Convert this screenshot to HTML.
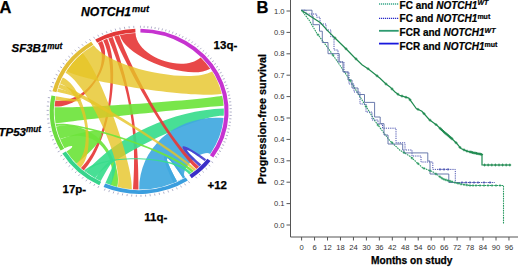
<!DOCTYPE html>
<html><head><meta charset="utf-8"><style>
html,body{margin:0;padding:0;background:#fff;}
body{width:520px;height:267px;overflow:hidden;position:relative;font-family:"Liberation Sans",sans-serif;}
svg{position:absolute;left:0;top:0;}
</style></head><body>
<svg width="520" height="267" viewBox="0 0 520 267">
<g transform="translate(139.2,111.3) scale(1,0.924)">
<path d="M1.26,-90.39L1.29,-92.59 M4.89,-90.27L5.01,-92.46 M8.51,-90.00L8.71,-92.19 M12.11,-89.58L12.41,-91.77 M15.70,-89.03L16.08,-91.19 M19.26,-88.32L19.73,-90.47 M22.79,-87.48L23.34,-89.61 M26.28,-86.50L26.92,-88.60 M29.73,-85.37L30.45,-87.45 M33.13,-84.11L33.94,-86.16 M36.48,-82.71L37.37,-84.73 M39.77,-81.18L40.74,-83.16 M43.00,-79.52L44.04,-81.46 M46.15,-77.73L47.28,-79.62 M49.24,-75.82L50.43,-77.66 M52.24,-73.78L53.51,-75.57 M55.16,-71.62L56.50,-73.37 M57.99,-69.35L59.40,-71.04 M60.72,-66.97L62.20,-68.60 M63.36,-64.48L64.90,-66.05 M65.90,-61.88L67.50,-63.39 M68.33,-59.19L69.99,-60.63 M70.65,-56.40L72.37,-57.77 M72.86,-53.52L74.63,-54.82 M74.94,-50.55L76.77,-51.78 M76.91,-47.50L78.79,-48.66 M78.76,-44.38L80.67,-45.46 M80.48,-41.18L82.43,-42.18 M82.06,-37.92L84.06,-38.84 M83.52,-34.59L85.55,-35.44 M84.84,-31.21L86.90,-31.97 M86.02,-27.79L88.12,-28.46 M87.07,-24.31L89.19,-24.90 M87.98,-20.80L90.12,-21.30 M88.74,-17.25L90.90,-17.67 M89.36,-13.67L91.53,-14.01 M89.84,-10.08L92.02,-10.32 M90.17,-6.46L92.36,-6.62 M90.36,-2.84L92.55,-2.91 M90.40,0.79L92.60,0.81 M90.29,4.42L92.49,4.52 M90.04,8.04L92.23,8.23 M89.65,11.64L91.83,11.93 M89.11,15.23L91.28,15.60 M88.42,18.80L90.58,19.25 M87.60,22.33L89.73,22.87 M86.63,25.83L88.74,26.45 M85.53,29.28L87.61,29.99 M84.28,32.69L86.33,33.49 M82.90,36.05L84.92,36.92 M81.39,39.34L83.37,40.30 M79.74,42.58L81.68,43.62 M77.97,45.75L79.87,46.86 M76.07,48.84L77.92,50.03 M72.20,54.40L73.95,55.73 M69.35,57.99L71.04,59.40 M66.33,61.42L67.94,62.92 M63.14,64.70L64.67,66.27 M59.78,67.81L61.24,69.46 M56.28,70.75L57.64,72.47 M49.24,75.82L50.43,77.66 M45.34,78.21L46.44,80.11 M41.32,80.40L42.33,82.36 M37.20,82.39L38.11,84.40 M32.98,84.17L33.79,86.22 M28.68,85.73L29.38,87.81 M24.31,87.07L24.90,89.19 M19.87,88.19L20.36,90.33 M15.39,89.08L15.76,91.25 M10.86,89.75L11.12,91.93 M6.31,90.18L6.46,92.37 M1.74,90.38L1.78,92.58 M-2.84,90.36L-2.91,92.55 M-7.41,90.10L-7.59,92.29 M-11.96,89.61L-12.25,91.79 M-16.47,88.89L-16.88,91.05 M-20.95,87.94L-21.46,90.08 M-25.37,86.77L-25.99,88.88 M-29.73,85.37L-30.45,87.45 M-34.01,83.76L-34.84,85.80 M-40.34,80.90L-41.32,82.87 M-44.38,78.76L-45.46,80.67 M-48.31,76.41L-49.48,78.27 M-52.11,73.87L-53.38,75.67 M-55.78,71.14L-57.14,72.87 M-59.31,68.23L-60.75,69.89 M-62.68,65.14L-64.21,66.72 M-65.90,61.88L-67.50,63.39 M-68.95,58.47L-70.62,59.89 M-71.82,54.91L-73.56,56.24 M-74.50,51.20L-76.31,52.45 M-77.00,47.37L-78.87,48.52 M-79.52,43.00L-81.46,44.04 M-81.59,38.92L-83.58,39.87 M-83.46,34.74L-85.49,35.59 M-85.11,30.47L-87.18,31.22 M-86.54,26.13L-88.65,26.76 M-87.75,21.72L-89.89,22.25 M-88.74,17.25L-90.90,17.67 M-89.50,12.74L-91.68,13.05 M-90.03,8.19L-92.22,8.39 M-90.33,3.63L-92.53,3.72 M-90.40,-0.95L-92.59,-0.97 M-90.23,-5.52L-92.43,-5.65 M-89.84,-10.08L-92.02,-10.32 M-89.21,-14.61L-91.38,-14.96 M-87.71,-21.87L-89.85,-22.40 M-86.50,-26.28L-88.60,-26.92 M-85.06,-30.62L-87.13,-31.37 M-83.40,-34.89L-85.43,-35.73 M-81.53,-39.06L-83.51,-40.01 M-79.45,-43.14L-81.38,-44.18 M-77.16,-47.10L-79.04,-48.25 M-74.68,-50.94L-76.50,-52.18 M-72.01,-54.66L-73.76,-55.99 M-69.15,-58.23L-70.83,-59.65 M-66.11,-61.65L-67.72,-63.15 M-62.91,-64.92L-64.44,-66.50 M-59.55,-68.02L-60.99,-69.67 M-56.03,-70.94L-57.39,-72.67 M-52.37,-73.69L-53.64,-75.48 M-48.57,-76.24L-49.75,-78.10 M-44.52,-78.68L-45.60,-80.59 M-40.48,-80.83L-41.46,-82.80 M-36.34,-82.78L-37.22,-84.79 M-32.10,-84.51L-32.88,-86.56 M-27.79,-86.02L-28.46,-88.12 M-23.40,-87.32L-23.97,-89.44 M-18.95,-88.39L-19.41,-90.54 M-14.45,-89.24L-14.80,-91.41 M-9.92,-89.85L-10.16,-92.04 M-5.36,-90.24L-5.49,-92.44" stroke="#a4a4c0" stroke-width="0.9" fill="none"/>
<path d="M-19.34,-82.46 A84.7,84.7 0 0 1 -3.69,-84.62 C-2.59,-59.23 43.01,-40.81 61.44,-58.30 A84.7,84.7 0 0 1 71.04,-46.13 C49.72,-32.29 -13.54,-57.72 -19.34,-82.46 Z" fill="#e63838" fill-opacity="0.92"/>
<path d="M-41.32,-73.94 A84.7,84.7 0 0 1 -37.13,-76.13 C-24.13,-49.48 -54.95,-3.36 -84.54,-5.17 A84.7,84.7 0 0 1 -83.88,-11.79 C-54.52,-7.66 -26.86,-48.06 -41.32,-73.94 Z" fill="#e63838" fill-opacity="0.92"/>
<path d="M-36.06,-76.64 A84.7,84.7 0 0 1 -32.00,-78.42 C-17.60,-43.13 -30.44,35.26 -55.34,64.12 A84.7,84.7 0 0 1 -58.30,61.44 C-32.07,33.79 -19.83,-42.15 -36.06,-76.64 Z" fill="#e63838" fill-opacity="0.92"/>
<path d="M-30.91,-78.86 A84.7,84.7 0 0 1 -26.45,-80.46 C-7.94,-24.14 -0.22,25.41 -0.74,84.70 A84.7,84.7 0 0 1 -6.20,84.47 C-1.86,25.34 -9.27,-23.66 -30.91,-78.86 Z" fill="#e63838" fill-opacity="0.92"/>
<path d="M-83.66,13.25 A84.7,84.7 0 0 1 -84.58,-4.43 C-59.21,-3.10 58.10,-11.82 83.00,-16.89 A84.7,84.7 0 0 1 84.49,-5.91 C59.15,-4.14 -58.56,9.27 -83.66,13.25 Z" fill="#6ee43c" fill-opacity="0.92"/>
<path d="M-74.65,40.03 A84.7,84.7 0 0 1 -79.07,30.35 C-30.05,11.53 -23.84,21.62 -62.75,56.89 A84.7,84.7 0 0 1 -72.68,43.50 C-63.96,38.28 -65.69,35.22 -74.65,40.03 Z" fill="#6ee43c" fill-opacity="0.92"/>
<path d="M-79.18,30.08 A84.7,84.7 0 0 1 -83.09,16.45 C-37.39,7.40 -16.44,61.36 -21.92,81.81 A84.7,84.7 0 0 1 -28.69,79.69 C-21.52,59.77 -35.63,13.53 -79.18,30.08 Z" fill="#6ee43c" fill-opacity="0.92"/>
<path d="M-44.00,72.37 A84.7,84.7 0 0 1 -53.30,65.82 C-21.32,26.33 33.86,-1.18 84.65,-2.96 A84.7,84.7 0 0 1 84.56,4.88 C59.19,3.41 -30.80,50.66 -44.00,72.37 Z" fill="#38dc8c" fill-opacity="0.92"/>
<path d="M-38.45,75.47 A84.7,84.7 0 0 1 -43.88,72.45 C-26.33,43.47 -16.96,47.91 -28.27,79.84 A84.7,84.7 0 0 1 -33.77,77.67 C-20.26,46.60 -23.07,45.28 -38.45,75.47 Z" fill="#38dc8c" fill-opacity="0.92"/>
<path d="M45.76,71.28 A84.7,84.7 0 0 1 0.00,84.70 C0.00,38.11 37.97,3.32 84.38,7.38 A84.7,84.7 0 0 1 71.04,46.13 C62.51,40.60 40.27,62.72 45.76,71.28 Z" fill="#40a8e0" fill-opacity="0.92"/>
<path d="M43.88,72.45 A84.7,84.7 0 0 1 37.79,75.80 C21.92,43.96 25.45,42.02 43.88,72.45 Z" fill="#fff"/>
<path d="M45.76,71.28 A84.7,84.7 0 0 1 43.88,72.45 C25.45,42.02 21.92,43.96 37.79,75.80 A84.7,84.7 0 0 1 34.45,77.38 C17.91,40.24 23.79,37.06 45.76,71.28 Z" fill="#40a8e0" fill-opacity="0.92"/>
<path d="M-25.05,-80.91 A84.7,84.7 0 0 1 -20.06,-82.29 C-17.65,-72.42 19.17,19.17 59.89,59.89 A84.7,84.7 0 0 1 57.11,62.55 C18.28,20.02 -22.04,-71.20 -25.05,-80.91 Z" fill="#e63838" fill-opacity="0.92"/>
<path d="M-73.72,-41.71 A84.7,84.7 0 0 1 -56.68,-62.94 C-39.67,-44.06 -5.17,59.06 -7.38,84.38 A84.7,84.7 0 0 1 -21.35,81.96 C-14.95,57.38 -51.60,-29.20 -73.72,-41.71 Z" fill="#e6c426" fill-opacity="0.8"/>
<path d="M-72.60,-43.62 A84.7,84.7 0 0 1 -45.51,-71.44 C-30.49,-47.86 48.90,-28.80 72.98,-42.99 A84.7,84.7 0 0 1 82.53,-19.05 C57.77,-13.34 -50.82,-30.54 -72.60,-43.62 Z" fill="#e6c426" fill-opacity="0.8"/>
<path d="M-82.00,-21.21 A84.7,84.7 0 0 1 -81.00,-24.76 C-48.60,-14.86 -50.29,-7.34 -83.81,-12.23 A84.7,84.7 0 0 1 -83.14,-16.16 C-49.89,-9.70 -49.20,-12.72 -82.00,-21.21 Z" fill="#e6c426" fill-opacity="0.8"/>
<path d="M-79.18,-30.08 A84.7,84.7 0 0 1 -76.45,-36.46 C-53.51,-25.53 -41.04,42.79 -58.62,61.13 A84.7,84.7 0 0 1 -62.65,57.00 C-43.85,39.90 -55.43,-21.05 -79.18,-30.08 Z" fill="#e6c426" fill-opacity="0.8"/>
<path d="M-80.82,-25.33 A84.7,84.7 0 0 1 -79.34,-29.66 C-55.54,-20.76 39.83,43.92 56.89,62.75 A84.7,84.7 0 0 1 54.90,64.50 C38.43,45.15 -56.58,-17.73 -80.82,-25.33 Z" fill="#e6c426" fill-opacity="0.8"/>
<path d="M65.36,53.88 A84.7,84.7 0 0 1 62.15,57.55 C41.64,38.56 43.79,36.10 65.36,53.88 Z" fill="#fff"/>
<path d="M66.93,51.91 A84.7,84.7 0 0 1 65.36,53.88 C43.79,36.10 41.64,38.56 62.15,57.55 A84.7,84.7 0 0 1 60.10,59.68 C34.86,34.62 38.82,30.11 66.93,51.91 Z" fill="#4a3ed0" fill-opacity="0.92"/>
<path d="M-83.17,16.02 A84.7,84.7 0 0 1 -83.56,13.83 C-58.49,9.68 38.27,45.29 54.67,64.69 A84.7,84.7 0 0 1 52.61,66.38 C36.83,46.47 -58.22,11.21 -83.17,16.02 Z" fill="#6ee43c" fill-opacity="0.92"/>
<path d="M-53.30,65.82 A84.7,84.7 0 0 1 -55.01,64.41 C-38.51,45.08 36.67,46.59 52.38,66.56 A84.7,84.7 0 0 1 50.02,68.35 C35.02,47.84 -37.31,46.08 -53.30,65.82 Z" fill="#38dc8c" fill-opacity="0.92"/>
<path d="M1.25,-89.39 A89.4,89.4 0 0 1 74.12,49.99 L70.72,47.70 A85.3,85.3 0 0 0 1.19,-85.29 Z" fill="#c633d0"/>
<path d="M71.40,53.80 A89.4,89.4 0 0 1 52.55,72.33 L50.14,69.01 A85.3,85.3 0 0 0 68.12,51.33 Z" fill="#3a2ec8"/>
<path d="M48.69,74.98 A89.4,89.4 0 0 1 -35.65,81.99 L-34.01,78.23 A85.3,85.3 0 0 0 46.46,71.54 Z" fill="#3a9ede"/>
<path d="M-39.89,80.01 A89.4,89.4 0 0 1 -76.87,45.64 L-73.35,43.55 A85.3,85.3 0 0 0 -38.06,76.34 Z" fill="#36d48c"/>
<path d="M-78.64,42.52 A89.4,89.4 0 0 1 -87.76,-17.06 L-83.73,-16.28 A85.3,85.3 0 0 0 -75.03,40.57 Z" fill="#6cdc40"/>
<path d="M-86.74,-21.63 A89.4,89.4 0 0 1 -48.03,-75.40 L-45.83,-71.94 A85.3,85.3 0 0 0 -82.77,-20.64 Z" fill="#e2bd36"/>
<path d="M-44.02,-77.81 A89.4,89.4 0 0 1 -3.90,-89.31 L-3.72,-85.22 A85.3,85.3 0 0 0 -42.00,-74.24 Z" fill="#e23838"/>
</g>
<g font-family="Liberation Sans, sans-serif" font-weight="bold" fill="#000" stroke="#000" stroke-width="0.25">
<text x="-0.5" y="13" font-size="16.5">A</text>
<text x="256.5" y="13.3" font-size="16.5">B</text>
<text x="81" y="15.8" font-size="12.2" font-style="italic">NOTCH1<tspan font-size="9.2" dx="1" dy="-3.6">mut</tspan></text>
<text x="11.5" y="52.1" font-size="11.5" font-style="italic">SF3B1<tspan font-size="8.2" dy="-3.6">mut</tspan></text>
<text x="213.6" y="49.4" font-size="11.5">13q-</text>
<text x="-1.5" y="135.5" font-size="11.5" font-style="italic">TP53<tspan font-size="8.2" dy="-3.3">mut</tspan></text>
<text x="62.5" y="192.5" font-size="11.5">17p-</text>
<text x="207.5" y="189.4" font-size="11.5">+12</text>
<text x="144.3" y="221.1" font-size="11.5">11q-</text>
<text x="371" y="264.3" font-size="10.2">Months on study</text>
<text transform="translate(266.2,119.2) rotate(-90)" font-size="10.8" text-anchor="middle">Progression-free survival</text>
</g>
<g font-family="Liberation Sans, sans-serif">
<path d="M290.5,0 V237 H518" stroke="#555" stroke-width="1" fill="none"/>
<path d="M286.5,225.00H290.5M286.5,203.60H290.5M286.5,182.20H290.5M286.5,160.80H290.5M286.5,139.40H290.5M286.5,118.00H290.5M286.5,96.60H290.5M286.5,75.20H290.5M286.5,53.80H290.5M286.5,32.40H290.5M286.5,11.00H290.5" stroke="#555" stroke-width="1"/>
<g font-size="7.6" fill="#333"><text x="284.5" y="227.60" text-anchor="end">0.0</text><text x="284.5" y="206.20" text-anchor="end">0.1</text><text x="284.5" y="184.80" text-anchor="end">0.2</text><text x="284.5" y="163.40" text-anchor="end">0.3</text><text x="284.5" y="142.00" text-anchor="end">0.4</text><text x="284.5" y="120.60" text-anchor="end">0.5</text><text x="284.5" y="99.20" text-anchor="end">0.6</text><text x="284.5" y="77.80" text-anchor="end">0.7</text><text x="284.5" y="56.40" text-anchor="end">0.8</text><text x="284.5" y="35.00" text-anchor="end">0.9</text><text x="284.5" y="13.60" text-anchor="end">1.0</text></g>
<path d="M301.60,237V240.5M314.56,237V240.5M327.52,237V240.5M340.48,237V240.5M353.44,237V240.5M366.40,237V240.5M379.36,237V240.5M392.32,237V240.5M405.28,237V240.5M418.24,237V240.5M431.20,237V240.5M444.16,237V240.5M457.12,237V240.5M470.08,237V240.5M483.04,237V240.5M496.00,237V240.5M508.96,237V240.5" stroke="#555" stroke-width="1"/>
<g font-size="7.6" fill="#333"><text x="301.60" y="249.6" text-anchor="middle">0</text><text x="314.56" y="249.6" text-anchor="middle">6</text><text x="327.52" y="249.6" text-anchor="middle">12</text><text x="340.48" y="249.6" text-anchor="middle">18</text><text x="353.44" y="249.6" text-anchor="middle">24</text><text x="366.40" y="249.6" text-anchor="middle">30</text><text x="379.36" y="249.6" text-anchor="middle">36</text><text x="392.32" y="249.6" text-anchor="middle">42</text><text x="405.28" y="249.6" text-anchor="middle">48</text><text x="418.24" y="249.6" text-anchor="middle">54</text><text x="431.20" y="249.6" text-anchor="middle">60</text><text x="444.16" y="249.6" text-anchor="middle">66</text><text x="457.12" y="249.6" text-anchor="middle">72</text><text x="470.08" y="249.6" text-anchor="middle">78</text><text x="483.04" y="249.6" text-anchor="middle">84</text><text x="496.00" y="249.6" text-anchor="middle">90</text><text x="508.96" y="249.6" text-anchor="middle">96</text></g>
<polyline points="301.40,10.20 309.00,20.00 316.70,33.00 328.00,48.00 335.00,58.00 348.50,78.00 362.00,100.00 375.70,122.00 389.20,140.00 400.00,150.30 410.30,156.50 422.60,167.80 433.00,171.90 443.20,179.10 453.50,182.20 461.80,184.30 470.00,185.50 503.50,185.50 503.50,224.00" fill="none" stroke="#2a9a62" stroke-width="1.1" stroke-dasharray="1.6,0.8"/>
<polyline points="301.40,10.20 306.00,10.20 306.00,14.00 316.70,14.00 316.70,17.20 320.00,17.20 320.00,24.00 326.00,24.00 326.00,30.00 330.80,30.00 330.80,36.80 334.00,36.80 334.00,50.00 338.00,50.00 338.00,62.00 344.00,62.00 344.00,72.00 349.00,72.00 349.00,84.00 354.00,84.00 354.00,92.00 360.00,92.00 360.00,104.00 366.00,104.00 366.00,112.00 372.00,112.00 372.00,120.00 378.00,120.00 378.00,124.00 382.50,124.00 382.50,128.20 396.00,128.20 396.00,142.80 405.00,142.80 405.00,150.00 412.00,150.00 412.00,156.00 421.00,156.00 421.00,162.00 432.80,162.00 432.80,169.40 455.30,169.40 455.30,182.50 495.00,182.50" fill="none" stroke="#4a52b0" stroke-width="1" stroke-dasharray="1.2,1"/>
<polyline points="301.40,10.20 312.00,10.20 312.00,16.00 313.00,16.00 313.00,24.70 319.50,24.70 319.50,31.20 322.30,31.20 322.30,42.50 328.00,42.50 328.00,53.70 339.20,53.70 339.20,62.00 343.00,62.00 343.00,72.00 348.00,72.00 348.00,80.00 352.00,80.00 352.00,88.00 358.00,88.00 358.00,94.50 364.50,94.50 364.50,102.40 374.60,102.40 374.60,117.00 380.20,117.00 380.20,123.70 384.00,123.70 384.00,135.00 388.00,135.00 388.00,144.00 402.70,144.00 402.70,150.00 404.00,150.00 404.00,152.90 427.80,152.90 427.80,161.00 430.00,161.00 430.00,174.00 448.80,174.00 448.80,182.50 460.00,182.50" fill="none" stroke="#5a6ca4" stroke-width="0.9"/>
<polyline points="301.40,10.20 310.00,16.00 320.50,22.80 328.00,31.20 337.00,40.00 346.20,49.00 354.00,57.00 362.00,64.70 368.70,69.20 380.00,78.20 386.00,84.00 390.00,86.90 395.00,92.00 399.40,95.30 408.80,98.10 416.30,108.50 421.90,111.30 429.40,119.70 436.90,125.30 444.40,132.40 451.70,138.50 456.80,143.50 461.00,148.60 466.90,151.10 473.70,152.80 482.00,154.50 482.00,165.00 510.80,165.00" fill="none" stroke="#1f8a50" stroke-width="1.2"/>
<path d="M333.60,38.04h2.80M335.00,36.64v2.80M344.60,48.80h2.80M346.00,47.40v2.80M354.60,58.92h2.80M356.00,57.52v2.80M366.60,68.73h2.80M368.00,67.33v2.80M375.60,75.81h2.80M377.00,74.41v2.80M384.60,84.00h2.80M386.00,82.60v2.80M390.60,88.94h2.80M392.00,87.54v2.80M396.60,94.25h2.80M398.00,92.85v2.80M400.60,96.07h2.80M402.00,94.67v2.80M404.60,97.27h2.80M406.00,95.87v2.80M408.60,99.76h2.80M410.00,98.36v2.80M416.60,109.35h2.80M418.00,107.95v2.80M422.60,113.65h2.80M424.00,112.25v2.80M428.60,120.15h2.80M430.00,118.75v2.80M434.60,124.63h2.80M436.00,123.23v2.80M438.60,128.23h2.80M440.00,126.83v2.80M439.80,129.37h2.80M441.20,127.97v2.80M441.00,130.51h2.80M442.40,129.11v2.80M442.20,131.64h2.80M443.60,130.24v2.80M443.40,132.73h2.80M444.80,131.33v2.80M444.60,133.74h2.80M446.00,132.34v2.80M445.80,134.74h2.80M447.20,133.34v2.80M447.00,135.74h2.80M448.40,134.34v2.80M448.20,136.75h2.80M449.60,135.35v2.80M449.40,137.75h2.80M450.80,136.35v2.80M450.60,138.79h2.80M452.00,137.39v2.80M454.60,142.72h2.80M456.00,141.32v2.80M458.60,147.39h2.80M460.00,145.99v2.80M462.60,149.87h2.80M464.00,148.47v2.80M465.60,151.12h2.80M467.00,149.72v2.80M468.60,151.88h2.80M470.00,150.47v2.80M469.90,152.20h2.80M471.30,150.80v2.80M471.20,152.53h2.80M472.60,151.12v2.80M472.50,152.84h2.80M473.90,151.44v2.80M473.80,153.11h2.80M475.20,151.71v2.80M475.10,153.37h2.80M476.50,151.97v2.80M476.40,153.64h2.80M477.80,152.24v2.80M477.70,153.91h2.80M479.10,152.51v2.80M479.00,154.17h2.80M480.40,152.77v2.80M480.30,154.44h2.80M481.70,153.04v2.80M483.20,165.00h2.80M484.60,163.60v2.80M486.80,165.00h2.80M488.20,163.60v2.80M490.40,165.00h2.80M491.80,163.60v2.80M494.00,165.00h2.80M495.40,163.60v2.80M497.60,165.00h2.80M499.00,163.60v2.80M501.20,165.00h2.80M502.60,163.60v2.80M504.80,165.00h2.80M506.20,163.60v2.80M508.40,165.00h2.80M509.80,163.60v2.80" stroke="#1f8a50" stroke-width="0.9" fill="none"/>
<path d="M316.70,34.73h2.60M318.00,33.43v2.60M331.70,55.14h2.60M333.00,53.84v2.60M348.70,80.44h2.60M350.00,79.14v2.60M364.70,106.42h2.60M366.00,105.12v2.60M376.70,125.07h2.60M378.00,123.77v2.60M390.70,142.67h2.60M392.00,141.37v2.60M402.70,152.71h2.60M404.00,151.41v2.60M410.70,158.06h2.60M412.00,156.76v2.60M416.70,163.57h2.60M418.00,162.27v2.60M422.70,168.35h2.60M424.00,167.05v2.60M428.70,170.72h2.60M430.00,169.42v2.60M434.70,174.02h2.60M436.00,172.72v2.60M438.70,176.84h2.60M440.00,175.54v2.60M440.70,178.25h2.60M442.00,176.95v2.60M442.70,179.34h2.60M444.00,178.04v2.60M444.70,179.94h2.60M446.00,178.64v2.60M446.70,180.54h2.60M448.00,179.24v2.60M448.70,181.15h2.60M450.00,179.85v2.60M450.70,181.75h2.60M452.00,180.45v2.60M453.70,182.58h2.60M455.00,181.28v2.60M456.70,183.34h2.60M458.00,182.04v2.60M459.70,184.10h2.60M461.00,182.80v2.60M462.70,184.62h2.60M464.00,183.32v2.60M465.70,185.06h2.60M467.00,183.76v2.60M468.70,185.50h2.60M470.00,184.20v2.60M471.70,185.50h2.60M473.00,184.20v2.60M474.70,185.50h2.60M476.00,184.20v2.60M478.70,185.50h2.60M480.00,184.20v2.60M482.70,185.50h2.60M484.00,184.20v2.60M486.70,185.50h2.60M488.00,184.20v2.60M490.70,185.50h2.60M492.00,184.20v2.60M494.70,185.50h2.60M496.00,184.20v2.60M498.70,185.50h2.60M500.00,184.20v2.60" stroke="#2a9a62" stroke-width="0.8" fill="none"/>
<path d="M438.70,169.40h2.60M440.00,168.10v2.60M442.70,169.40h2.60M444.00,168.10v2.60M446.70,169.40h2.60M448.00,168.10v2.60M460.70,182.50h2.60M462.00,181.20v2.60M464.70,182.50h2.60M466.00,181.20v2.60M468.70,182.50h2.60M470.00,181.20v2.60M472.70,182.50h2.60M474.00,181.20v2.60M476.70,182.50h2.60M478.00,181.20v2.60M482.70,182.50h2.60M484.00,181.20v2.60M488.70,182.50h2.60M490.00,181.20v2.60" stroke="#4a52b0" stroke-width="0.8" fill="none"/>
</g>
<g font-family="Liberation Sans, sans-serif" font-weight="bold" font-size="10" fill="#000" stroke="#000" stroke-width="0.2">
<line x1="379" y1="4.0" x2="398.7" y2="4.0" stroke="#3aa88a" stroke-width="1.3" stroke-dasharray="1.2,0.8"/>
<line x1="379" y1="18.4" x2="398.7" y2="18.4" stroke="#2a2ac8" stroke-width="1.3" stroke-dasharray="1.2,0.8"/>
<line x1="379" y1="30.8" x2="398.7" y2="30.8" stroke="#2e9a70" stroke-width="1.8"/>
<line x1="379" y1="43.6" x2="398.7" y2="43.6" stroke="#1818dd" stroke-width="1.8"/>
<text x="399.6" y="8.8">FC and <tspan font-style="italic">NOTCH1<tspan font-size="7" dy="-3.5">WT</tspan></tspan></text>
<text x="399.6" y="22.4">FC and <tspan font-style="italic">NOTCH1</tspan><tspan font-size="7" dy="-3.5">mut</tspan></text>
<text x="399.6" y="36.4">FCR and <tspan font-style="italic">NOTCH1<tspan font-size="7" dy="-3.5">WT</tspan></tspan></text>
<text x="399.6" y="50.0">FCR and <tspan font-style="italic">NOTCH1</tspan><tspan font-size="7" dy="-3.5">mut</tspan></text>
</g>
</svg>
</body></html>
